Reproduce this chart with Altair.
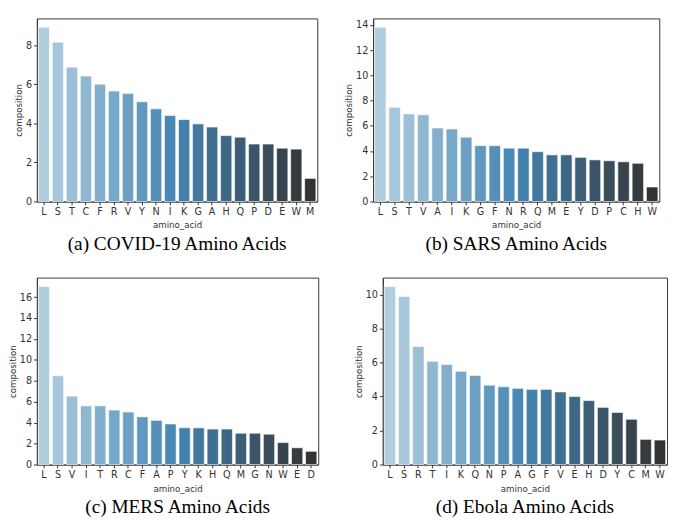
import altair as alt
import pandas as pd
import colorsys

# ---- data ----
covid_aa = ["L", "S", "T", "C", "F", "R", "V", "Y", "N", "I", "K", "G", "A", "H", "Q", "P", "D", "E", "W", "M"]
covid_val = [8.92, 8.15, 6.87, 6.42, 6.00, 5.65, 5.52, 5.10, 4.74, 4.40, 4.19, 3.97, 3.81, 3.37, 3.29, 2.94, 2.94, 2.73, 2.68, 1.18]

sars_aa = ["L", "S", "T", "V", "A", "I", "K", "G", "F", "N", "R", "Q", "M", "E", "Y", "D", "P", "C", "H", "W"]
sars_val = [13.83, 7.48, 6.95, 6.88, 5.83, 5.75, 5.10, 4.43, 4.43, 4.23, 4.23, 3.95, 3.70, 3.70, 3.50, 3.30, 3.23, 3.15, 3.03, 1.15]

mers_aa = ["L", "S", "V", "I", "T", "R", "C", "F", "A", "P", "Y", "K", "H", "Q", "M", "G", "N", "W", "E", "D"]
mers_val = [17.02, 8.48, 6.54, 5.61, 5.61, 5.21, 5.02, 4.56, 4.22, 3.88, 3.51, 3.51, 3.39, 3.39, 2.99, 2.99, 2.90, 2.10, 1.60, 1.26]

ebola_aa = ["L", "S", "R", "T", "I", "K", "Q", "N", "P", "A", "G", "F", "V", "E", "H", "D", "Y", "C", "M", "W"]
ebola_val = [10.47, 9.89, 6.94, 6.07, 5.88, 5.48, 5.24, 4.67, 4.57, 4.48, 4.42, 4.42, 4.27, 4.00, 3.76, 3.36, 3.06, 2.66, 1.48, 1.44]

covid_ticks = [0, 2, 4, 6, 8]
sars_ticks = [0, 2, 4, 6, 8, 10, 12, 14]
mers_ticks = [0, 2, 4, 6, 8, 10, 12, 14, 16]
ebola_ticks = [0, 2, 4, 6, 8, 10]

captions = ["(a) COVID-19 Amino Acids", "(b) SARS Amino Acids",
            "(c) MERS Amino Acids", "(d) Ebola Amino Acids"]


# ---- palette: seaborn "Blues_d" blend, desaturated like barplot ----
def blues_d(n, desat=0.8):
    stops = [(171, 208, 230), (55, 135, 192), (51, 51, 51)]
    out = []
    for i in range(n):
        t = i / (n - 1) * 2
        k = min(int(t), 1)
        f = t - k
        c = [stops[k][j] + (stops[k + 1][j] - stops[k][j]) * f for j in range(3)]
        h, l, s = colorsys.rgb_to_hls(*[v / 255 for v in c])
        r, g, b = colorsys.hls_to_rgb(h, l, s * desat)
        out.append("#%02x%02x%02x" % (round(r * 255), round(g * 255), round(b * 255)))
    return out


palette = blues_d(20)


def panel(aa, vals, ticks, caption, width, height):
    df = pd.DataFrame({"amino_acid": aa, "composition": vals,
                       "rank": list(range(len(aa)))})
    ymax = max(vals) * 1.05
    return alt.Chart(df).mark_bar(stroke="white", strokeWidth=0.6).encode(
        x=alt.X("amino_acid:N", sort=aa,
                scale=alt.Scale(paddingInner=0.2, paddingOuter=0.1),
                axis=alt.Axis(labelAngle=0, title="amino_acid", titlePadding=5)),
        y=alt.Y("composition:Q",
                scale=alt.Scale(domain=[0, ymax], nice=False, zero=True),
                axis=alt.Axis(values=ticks, title="composition", grid=False)),
        color=alt.Color("rank:O",
                        scale=alt.Scale(domain=list(range(20)), range=palette),
                        legend=None),
    ).properties(
        width=width, height=height,
        title=alt.TitleParams(caption, orient="bottom", anchor="middle",
                              font="Liberation Serif", fontSize=20,
                              fontWeight="normal", color="#000000", offset=5),
    )


pa = panel(covid_aa, covid_val, covid_ticks, captions[0], 291, 190)
pb = panel(sars_aa, sars_val, sars_ticks, captions[1], 297, 190)
pc = panel(mers_aa, mers_val, mers_ticks, captions[2], 292, 194)
pd_ = panel(ebola_aa, ebola_val, ebola_ticks, captions[3], 295, 194)

chart = alt.vconcat(
    alt.hconcat(pa, pb, spacing=27),
    alt.hconcat(pc, pd_, spacing=36),
    spacing=23,
).properties(padding=0, background="white").configure_view(
    stroke="#333333", strokeWidth=1
).configure_axis(
    labelFont="DejaVu Sans", labelFontSize=10, labelColor="#333333",
    titleFont="DejaVu Sans", titleFontSize=9, titleFontWeight="normal",
    titleColor="#333333", tickColor="#333333", domainColor="#333333",
    tickSize=3.5, labelPadding=2, titlePadding=2,
)

chart.save("out.html", embed_options={"renderer": "svg", "actions": False})
